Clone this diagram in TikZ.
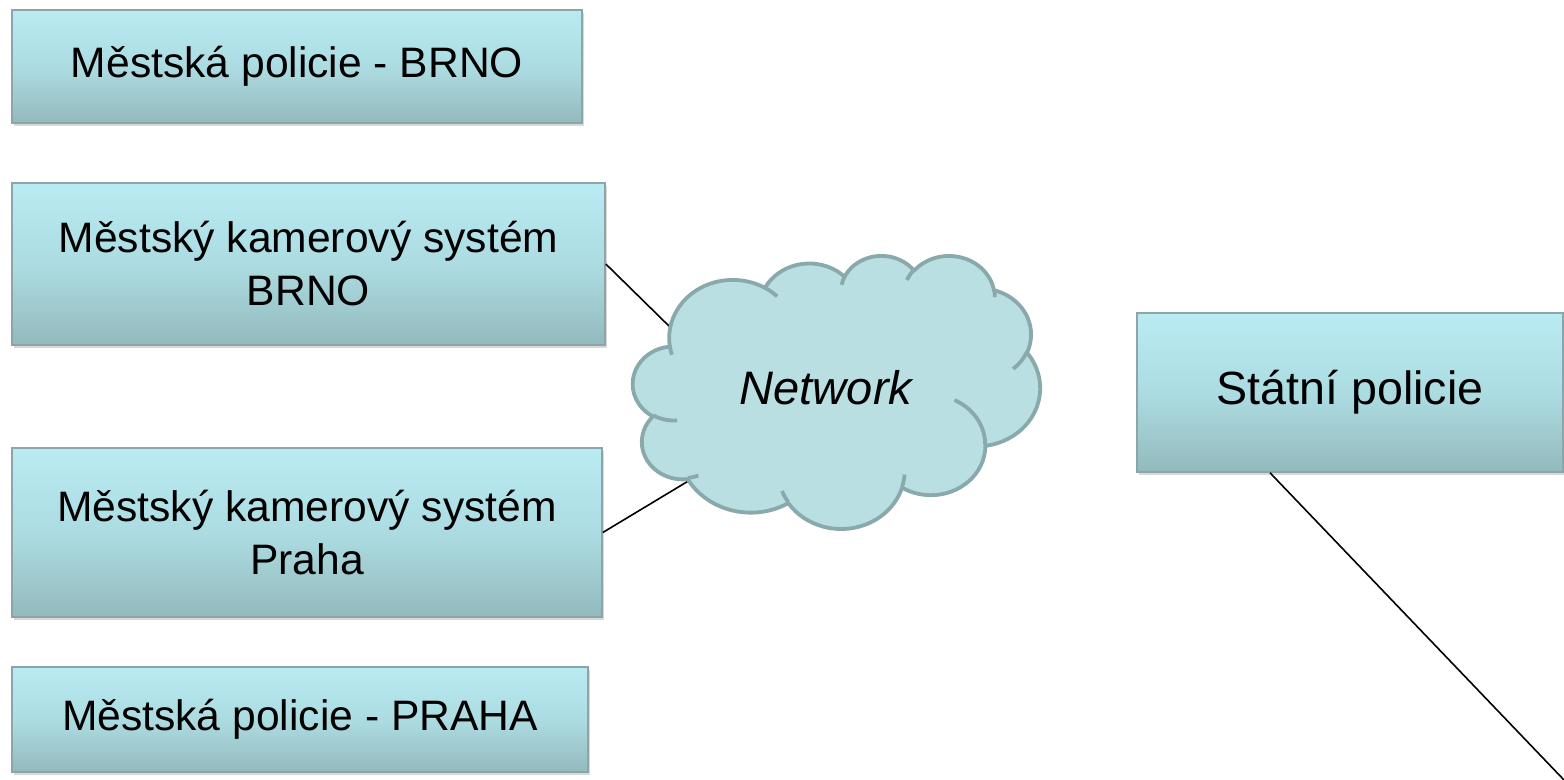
\documentclass[tikz,border=0pt]{standalone}
\usepackage{fontspec}
\setmainfont{Liberation Sans}
\usetikzlibrary{shadows}
\definecolor{boxtop}{HTML}{B9EBF2}
\definecolor{boxmid}{HTML}{ACDCE2}
\definecolor{boxbot}{HTML}{93BABD}
\definecolor{boxedge}{HTML}{8CA5A8}
\definecolor{cloudfill}{HTML}{B9DFE2}
\definecolor{cloudline}{HTML}{89A9AB}
\newcommand\cldarc[4]{%
  \pgfextra{%
    \pgfmathsetmacro\cldA{atan2((#1)*sin(#3),(#2)*cos(#3))}%
    \pgfmathsetmacro\cldB{atan2((#1)*sin((#3)+(#4)),(#2)*cos((#3)+(#4)))}%
    \pgfmathsetmacro\cldD{mod((\cldB)-(\cldA)+720,360)}%
    \global\let\cldA\cldA\global\let\cldD\cldD}%
  arc[start angle=\cldA, delta angle=\cldD, x radius=#1, y radius=#2]}
\tikzset{
  pbox/.style={rectangle, top color=boxtop, bottom color=boxbot, middle color=boxmid,
    draw=boxedge, line width=0.8pt, align=center, inner sep=0pt,
    font=\fontsize{21.3}{26.5}\selectfont,
    drop shadow={shadow xshift=1.2pt, shadow yshift=-1.6pt, opacity=0.3}},
  conn/.style={draw=black, line width=0.8pt},
  cloudstyle/.style={draw=cloudline, line width=1.9pt, line join=round}
}
\begin{document}
\begin{tikzpicture}[x=0.5pt,y=-0.5pt]
\useasboundingbox (0,0) rectangle (1564,780);
% boxes
\node[pbox, minimum width=285pt, minimum height=56.5pt] (b1) at (297,66.5) {Městská policie - BRNO};
\node[pbox, minimum width=296.5pt, minimum height=81pt] (b2) at (308.5,264) {Městský kamerový systém\\BRNO};
\node[pbox, minimum width=295pt, minimum height=84.5pt] (b3) at (307,532.5) {Městský kamerový systém\\Praha};
\node[pbox, minimum width=288pt, minimum height=52.5pt] (b4) at (300,719.5) {Městská policie - PRAHA};
\node[pbox, minimum width=213pt, minimum height=79.5pt, font=\fontsize{23.3}{28}\selectfont] (b5) at (1350,392.5) {Státní policie};
% connector end points
\coordinate (c1) at (672,329);
\coordinate (c2) at (690,480);
\coordinate (corner) at (1564,780);
\draw[conn] (b2.east) -- (c1);
\draw[conn] (b3.east) -- (c2);
\draw[conn] ([xshift=-40pt]b5.south) -- (corner);
% cloud
\begin{scope}[shift={(633,255)},x=0.4711pt,y=-0.316pt]
\path[cloudstyle, fill=cloudfill] (39.00,143.70)
  \cldarc{67.53}{91.90}{-190.4875}{123.7805}
  \cldarc{53.33}{72.67}{-144.1024}{89.9452}
  \cldarc{43.65}{59.45}{-145.8079}{99.7230}
  \cldarc{48.57}{65.95}{-130.9861}{117.2417}
  \cldarc{53.33}{72.73}{-78.7089}{109.0269}
  \cldarc{67.75}{92.20}{-46.2673}{130.2690}
  \cldarc{57.85}{78.67}{0.6250}{114.0333}
  \cldarc{67.52}{92.15}{22.4516}{115.1726}
  \cldarc{77.20}{105.43}{66.2426}{75.7110}
  \cldarc{43.60}{59.18}{-274.9421}{146.7356}
  \cldarc{43.45}{59.45}{-246.8285}{152.5189}
  -- cycle;
\path[cloudstyle]
  (46.93,261.77) \cldarc{43.45}{59.45}{86.7420}{26.4295}
  (69.28,348.99) \cldarc{43.60}{59.18}{73.6105}{11.4475}
  (164.78,390.90) \cldarc{67.52}{92.15}{137.6242}{14.0811}
  (288.27,347.51) \cldarc{67.52}{92.15}{6.4533}{15.9984}
  (341.29,229.54) \cldarc{57.85}{78.67}{-70.2924}{70.9174}
  (417.98,153.54) \cldarc{53.33}{72.73}{30.3180}{27.7515}
  (383.24,54.26) \cldarc{48.57}{65.95}{-13.7443}{14.8589}
  (290.78,39.52) \cldarc{48.57}{65.95}{-149.1815}{18.1954}
  (221.41,47.20) \cldarc{43.65}{59.45}{-163.4943}{17.6864}
  (140.00,51.92) \cldarc{67.53}{91.90}{-66.7070}{12.3194}
  (41.27,157.89) \cldarc{67.53}{91.90}{157.6544}{11.8582};
\end{scope}
\node[font=\itshape\fontsize{23.5}{28}\selectfont, inner sep=0pt] (net) at (826,388) {Network};
\end{tikzpicture}
\end{document}
